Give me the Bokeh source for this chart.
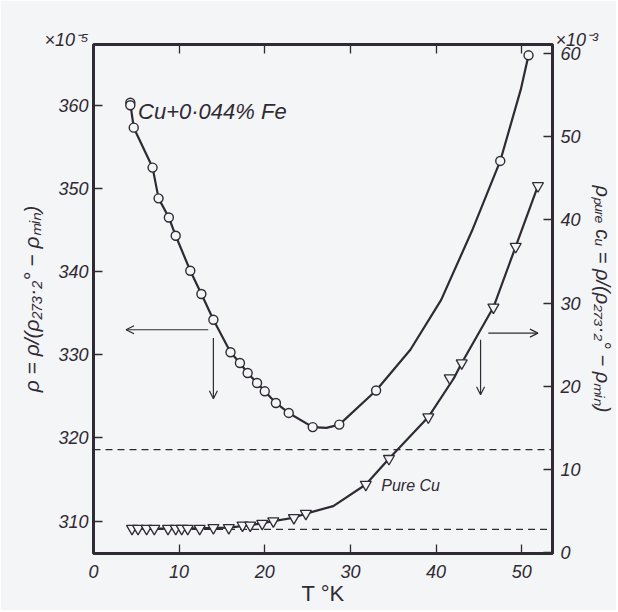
import numpy as np
from bokeh.plotting import figure
from bokeh.models import Range1d, LinearAxis, FixedTicker, Label, Arrow, OpenHead
from bokeh.embed import file_html
from bokeh.resources import INLINE

# ---------------- data ----------------
# Cu + 0.044% Fe  (left axis, units of 1e-5)
fe_T = [4.3, 4.3, 4.7, 6.9, 7.6, 8.8, 9.6, 11.3, 12.6, 14.0, 16.0, 17.1, 18.0,
        19.1, 20.0, 21.3, 22.8, 25.6, 28.7, 33.0, 47.5, 50.8]
fe_rho = [360.3, 360.0, 357.3, 352.5, 348.8, 346.5, 344.3, 340.1, 337.3, 334.2,
          330.3, 329.0, 327.8, 326.6, 325.6, 324.2, 323.0, 321.3, 321.6, 325.7,
          353.3, 366.0]
# drawn smooth curve through them
fe_curve_T = [4.3, 4.7, 6.9, 7.6, 8.8, 9.6, 11.3, 12.6, 14.0, 16.0, 17.1, 18.0,
              19.1, 20.0, 21.3, 22.8, 25.6, 27.2, 28.7, 33.0, 37.0, 40.6, 44.2,
              47.5, 49.9, 50.8]
fe_curve_rho = [360.2, 357.3, 352.5, 348.8, 346.5, 344.3, 340.1, 337.3, 334.2,
                330.3, 329.0, 327.8, 326.6, 325.6, 324.2, 323.0, 321.3, 321.2,
                321.6, 325.7, 330.6, 336.6, 344.9, 353.3, 361.9, 366.0]

# Pure Cu (right axis, units of 1e-3)
cu_T = [4.5, 5.2, 6.2, 7.1, 8.7, 9.6, 10.3, 11.0, 12.4, 14.0, 15.8, 17.4, 18.3,
        19.7, 21.0, 23.4, 24.8, 31.8, 34.5, 39.1, 41.6, 43.0, 46.7, 49.3, 51.9]
cu_rho = [2.9, 2.9, 2.9, 2.9, 2.9, 2.9, 2.9, 2.9, 2.9, 3.0, 3.0, 3.3, 3.3,
          3.5, 3.8, 4.2, 4.7, 8.2, 11.3, 16.3, 21.0, 22.8, 29.5, 36.8, 44.1]
cu_curve_T = [4.5, 10.3, 15.8, 18.3, 21.0, 23.4, 24.8, 28.0, 31.8, 34.5, 39.1,
              42.1, 43.0, 46.7, 49.3, 51.9]
cu_curve_rho = [2.9, 2.9, 3.0, 3.3, 3.8, 4.2, 4.7, 5.6, 8.2, 11.3, 16.3,
                21.0, 22.8, 29.5, 36.8, 44.1]

# dashed reference levels (left-axis units)
level_rho = [318.6, 309.0]
level_T_start = [0.0, 4.5]
level_T_end = [53.6, 53.6]

# arrows (data units: T, left-axis rho)
arrow_T0 = [13.4, 14.0, 46.1, 45.2]
arrow_T1 = [3.8, 14.0, 51.9, 45.2]
arrow_r0 = [333.0, 332.0, 332.6, 331.8]
arrow_r1 = [333.0, 324.7, 332.6, 325.2]

x_ticks = [0, 10, 20, 30, 40, 50]
left_ticks = [310, 320, 330, 340, 350, 360]
right_ticks = [0, 10, 20, 30, 40, 50, 60]

INK = "#2f2a33"
BG = "#f4f5f7"
FONT = "Liberation Sans"

p = figure(width=616, height=610,
           min_border_left=93, min_border_right=60,
           min_border_top=44, min_border_bottom=57,
           x_range=Range1d(0, 53.6), y_range=Range1d(306.1, 367.3),
           output_backend="svg", toolbar_location=None)
p.extra_y_ranges = {"right": Range1d(-0.1, 61.1)}
p.background_fill_color = BG
p.border_fill_color = BG
p.outline_line_color = INK
p.outline_line_width = 3
p.xgrid.visible = False
p.ygrid.visible = False

bottom_axis = p.below[0]
left_axis = p.left[0]
right_axis = LinearAxis(y_range_name="right")
top_axis = LinearAxis()
p.add_layout(right_axis, "right")
p.add_layout(top_axis, "above")

def style_axis(ax, ticks, standoff):
    ax.ticker = FixedTicker(ticks=ticks)
    ax.axis_line_color = None
    ax.major_tick_in = 9
    ax.major_tick_out = 0
    ax.major_tick_line_color = INK
    ax.major_tick_line_width = 1.3
    ax.minor_tick_line_color = None
    ax.major_label_text_font = FONT
    ax.major_label_text_font_style = "italic"
    ax.major_label_text_font_size = "18px"
    ax.major_label_text_color = INK
    ax.major_label_standoff = standoff
    ax.axis_label_text_font = FONT
    ax.axis_label_text_font_style = "italic"
    ax.axis_label_text_color = INK

style_axis(bottom_axis, x_ticks, 11)
style_axis(left_axis, left_ticks, 5)
style_axis(right_axis, right_ticks, 8)
style_axis(top_axis, x_ticks, 0)
top_axis.major_label_text_color = None
top_axis.major_label_text_font_size = "1px"

bottom_axis.axis_label = "T °K"
bottom_axis.axis_label_text_font_style = "normal"
bottom_axis.axis_label_text_font_size = "22px"
bottom_axis.axis_label_standoff = 0

left_axis.axis_label = "ρ = ρ/(ρ₂₇₃·₂° − ρₘᵢₙ)"
left_axis.axis_label_text_font_size = "21px"
left_axis.axis_label_standoff = 12

right_axis.axis_label = "ρₚᵤᵣₑ ᴄᵤ = ρ/(ρ₂₇₃·₂° − ρₘᵢₙ)"
right_axis.axis_label_text_font_size = "20px"
right_axis.axis_label_standoff = 8

# dashed levels
for r, t0, t1 in zip(level_rho, level_T_start, level_T_end):
    p.line([t0, t1], [r, r], line_color=INK, line_width=1.3, line_dash="7 5")

# curves
p.line(fe_curve_T, fe_curve_rho, line_color=INK, line_width=2.2)
p.line(cu_curve_T, cu_curve_rho, line_color=INK, line_width=2.2, y_range_name="right")

# markers
p.scatter(fe_T, fe_rho, marker="circle", size=9, fill_color=BG,
          line_color=INK, line_width=1.4)
p.scatter(cu_T, cu_rho, marker="inverted_triangle", size=11, fill_color=BG,
          line_color=INK, line_width=1.3, y_range_name="right")

# arrows
for a, b, c, d in zip(arrow_T0, arrow_r0, arrow_T1, arrow_r1):
    p.add_layout(Arrow(x_start=a, y_start=b, x_end=c, y_end=d,
                       line_color=INK, line_width=1.2,
                       end=OpenHead(size=8, line_color=INK, line_width=1.2)))

def make_label(text, x, y, units="data", size="17px", align="left"):
    return Label(x=x, y=y, x_units=units, y_units=units, text=text,
                 text_font=FONT, text_font_style="italic",
                 text_font_size=size, text_color=INK,
                 text_align=align, text_baseline="middle")

p.add_layout(make_label("Cu+0·044% Fe", 5.2, 359.2, size="22px"))
p.add_layout(make_label("Pure Cu", 33.6, 314.3, size="16px"))

# scale factors above the two vertical axes (placed in the top panel)
p.add_layout(make_label("×10⁻⁵", -5, 5, units="screen", size="18px", align="right"), "above")
p.add_layout(make_label("×10⁻³", 462, -15, units="screen", size="18px", align="left"), "above")

open("out.html", "w").write(file_html(p, INLINE))
